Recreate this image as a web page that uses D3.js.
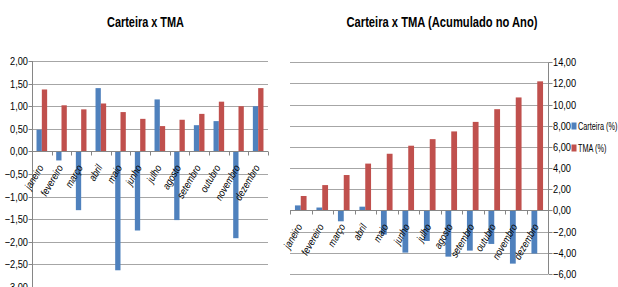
<!DOCTYPE html>
<html>
<head>
<meta charset="utf-8">
<script src="https://cdn.jsdelivr.net/npm/d3@7"></script>
<style>
  html, body { margin: 0; padding: 0; background: #fff; }
  svg { display: block; }
  text { font-family: "Liberation Sans", Arial, sans-serif; fill: #000; }
</style>
</head>
<body>
<svg id="chart" width="618" height="287"></svg>
<script>
const months = ["janeiro","fevereiro","março","abril","maio","junho","julho","agosto","setembro","outubro","novembro","dezembro"];
const seriesNames = ["Carteira (%)", "TMA (%)"];
// Monthly
const carteiraMensal = [0.48, -0.20, -1.30, 1.40, -2.63, -1.75, 1.15, -1.52, 0.58, 0.67, -1.92, 1.00];
const tmaMensal      = [1.37, 1.02, 0.93, 1.06, 0.87, 0.72, 0.56, 0.70, 0.83, 1.10, 1.00, 1.40];
// Accumulated in the year
const carteiraAcum = [0.48, 0.28, -1.02, 0.36, -2.28, -3.98, -2.88, -4.36, -3.79, -3.16, -5.02, -4.07];
const tmaAcum      = [1.37, 2.40, 3.35, 4.43, 5.36, 6.12, 6.74, 7.47, 8.37, 9.57, 10.68, 12.20];
const leftTicks  = [-3, -2.5, -2, -1.5, -1, -0.5, 0, 0.5, 1, 1.5, 2];
const rightTicks = [-6, -4, -2, 0, 2, 4, 6, 8, 10, 12, 14];
const titles = ["Carteira x TMA", "Carteira x TMA (Acumulado no Ano)"];

const colors = ["#4F81BD", "#C0504D"];
const fmt = v => d3.format(".2f")(v).replace(".", ",");
const NARROW = 0.84; // emulate a narrow (Calibri-like) face

const svg = d3.select("#chart");
svg.append("rect").attr("width", 618).attr("height", 287).attr("fill", "#fff");

function drawChart(opts) {
  const g = svg.append("g");
  const x0 = d3.scaleBand().domain(months).range([opts.left, opts.right]);
  const bw = x0.bandwidth();
  const x1 = d3.scaleBand().domain(seriesNames).range([bw * 0.23, bw * 0.77]);
  const y = d3.scaleLinear().domain(opts.domain).range([opts.bottom, opts.top]);

  // gridlines
  g.append("g").selectAll("line").data(opts.ticks).join("line")
    .attr("x1", opts.left).attr("x2", opts.right)
    .attr("y1", d => Math.round(y(d)) + 0.5).attr("y2", d => Math.round(y(d)) + 0.5)
    .attr("stroke", "#a6a6a6").attr("stroke-width", 1);

  // bars
  const data = months.map((m, i) => ({ m, vals: [opts.s1[i], opts.s2[i]] }));
  const grp = g.append("g").selectAll("g").data(data).join("g")
    .attr("transform", d => `translate(${x0(d.m)},0)`);
  grp.selectAll("rect").data(d => d.vals.map((v, k) => ({ v, k })))
    .join("rect")
    .attr("x", d => x1(seriesNames[d.k]))
    .attr("width", x1.bandwidth())
    .attr("y", d => y(Math.max(0, d.v)))
    .attr("height", d => Math.abs(y(d.v) - y(0)))
    .attr("fill", d => colors[d.k]);

  // zero axis line
  const y0 = Math.round(y(0)) + 0.5;
  g.append("line").attr("x1", opts.left).attr("x2", opts.right)
    .attr("y1", y0).attr("y2", y0).attr("stroke", "#868686");
  // category tick marks
  g.append("g").selectAll("line").data(d3.range(months.length + 1)).join("line")
    .attr("x1", i => Math.round(opts.left + i * bw) + 0.5)
    .attr("x2", i => Math.round(opts.left + i * bw) + 0.5)
    .attr("y1", y0).attr("y2", y0 + 4).attr("stroke", "#868686");

  // value axis
  const axX = opts.axisSide === "left" ? opts.left : opts.right;
  const ax = Math.round(axX) + 0.5;
  g.append("line").attr("x1", ax).attr("x2", ax)
    .attr("y1", opts.top).attr("y2", opts.bottom).attr("stroke", "#868686");
  const dir = opts.axisSide === "left" ? -1 : 1;
  g.append("g").selectAll("line").data(opts.ticks).join("line")
    .attr("x1", ax).attr("x2", ax + dir * 4)
    .attr("y1", d => Math.round(y(d)) + 0.5).attr("y2", d => Math.round(y(d)) + 0.5)
    .attr("stroke", "#868686");
  g.append("g").selectAll("text").data(opts.ticks).join("text")
    .attr("transform", d => `translate(${ax + dir * 4.5},${y(d) + 4}) scale(${NARROW},1)`)
    .attr("text-anchor", opts.axisSide === "left" ? "end" : "start")
    .attr("font-size", 11)
    .text(d => fmt(d));

  // category labels
  g.append("g").selectAll("text").data(months).join("text")
    .attr("transform", d => `translate(${x0(d) + bw / 2 + 2},${y(0) + 16}) rotate(-60) scale(${NARROW},1)`)
    .attr("text-anchor", "end")
    .attr("font-size", 10.5)
    .attr("font-style", "italic")
    .text(d => d);

  // title
  g.append("text").attr("x", opts.titleX - opts.titleW / 2).attr("y", 27)
    .attr("font-size", 15.5).attr("font-weight", "bold")
    .attr("textLength", opts.titleW).attr("lengthAdjust", "spacingAndGlyphs")
    .text(opts.title);
  return { x0, y };
}

drawChart({ left: 32, right: 268, top: 61, bottom: 287, domain: [-3, 2], ticks: leftTicks,
  s1: carteiraMensal, s2: tmaMensal, axisSide: "left", title: titles[0], titleX: 145.5, titleW: 77 });

drawChart({ left: 290, right: 548, top: 62.3, bottom: 274, domain: [-6, 14], ticks: rightTicks,
  s1: carteiraAcum, s2: tmaAcum, axisSide: "right", title: titles[1], titleX: 442, titleW: 191 });

// legend
const leg = svg.append("g").selectAll("g").data(seriesNames).join("g")
  .attr("transform", (d, i) => `translate(571.5,${126 + i * 22})`);
leg.append("rect").attr("x", 0).attr("y", -3.5).attr("width", 5).attr("height", 7)
  .attr("fill", (d, i) => colors[i]);
leg.append("text").attr("transform", "translate(6.5,3.7) scale(0.73,1)")
  .attr("font-size", 10)
  .text(d => d);
</script>
</body>
</html>
